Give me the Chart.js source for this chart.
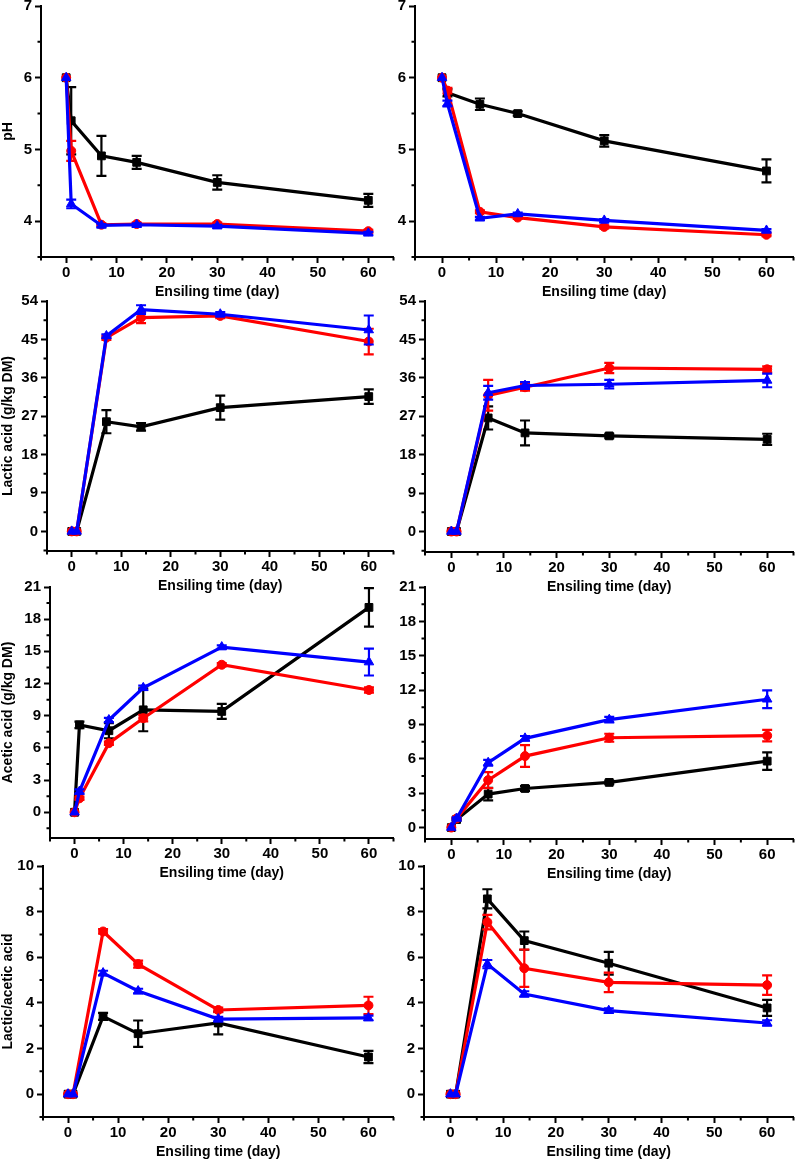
<!DOCTYPE html>
<html>
<head>
<meta charset="utf-8">
<script src="https://cdn.jsdelivr.net/npm/chart.js@4/dist/chart.umd.min.js"></script>
<style>
html, body { margin: 0; padding: 0; background: #ffffff; }
body { width: 800px; height: 1161px; position: relative; overflow: hidden; }
canvas { position: absolute; }
</style>
</head>
<body>
<canvas id="c1"></canvas>
<canvas id="c2"></canvas>
<canvas id="c3"></canvas>
<canvas id="c4"></canvas>
<canvas id="c5"></canvas>
<canvas id="c6"></canvas>
<canvas id="c7"></canvas>
<canvas id="c8"></canvas>
<script>
// ---------- data ----------
const days = [0, 1, 7, 14, 30, 60];
const xTicks = [0, 10, 20, 30, 40, 50, 60];
const xTitle = 'Ensiling time (day)';

const pHTicks = [4, 5, 6, 7];
const lacticTicks = [0, 9, 18, 27, 36, 45, 54];
const aceticTicks = [0, 3, 6, 9, 12, 15, 18, 21];
const ratioTicks = [0, 2, 4, 6, 8, 10];

// pH, left
const pHLeftBlack = [6.00, 5.40, 4.91, 4.82, 4.54, 4.29];
const pHLeftBlackErr = [0, 0.47, 0.28, 0.09, 0.10, 0.09];
const pHLeftRed = [6.00, 4.98, 3.95, 3.96, 3.96, 3.86];
const pHLeftRedErr = [0, 0.14, 0.02, 0.02, 0.02, 0.02];
const pHLeftBlue = [6.00, 4.24, 3.94, 3.95, 3.93, 3.83];
const pHLeftBlueErr = [0, 0.06, 0.02, 0.02, 0.02, 0.02];
// pH, right
const pHRightBlack = [6.00, 5.79, 5.63, 5.50, 5.12, 4.70];
const pHRightBlackErr = [0, 0.05, 0.08, 0.03, 0.08, 0.16];
const pHRightRed = [6.00, 5.82, 4.13, 4.05, 3.92, 3.81];
const pHRightRedErr = [0, 0.04, 0.02, 0.02, 0.02, 0.02];
const pHRightBlue = [6.00, 5.64, 4.04, 4.10, 4.01, 3.87];
const pHRightBlueErr = [0, 0.04, 0.02, 0.02, 0.02, 0.02];

// Lactic acid, left
const lacticLeftBlack = [0, 0, 25.7, 24.5, 29.0, 31.6];
const lacticLeftBlackErr = [0, 0, 2.7, 0.9, 2.8, 1.7];
const lacticLeftRed = [0, 0, 45.4, 50.1, 50.5, 44.5];
const lacticLeftRedErr = [0, 0, 0.5, 1.3, 0.5, 3.0];
const lacticLeftBlue = [0, 0, 45.8, 52.0, 50.9, 47.2];
const lacticLeftBlueErr = [0, 0, 0.4, 1.0, 0.5, 3.4];
// Lactic acid, right
const lacticRightBlack = [0, 0, 26.6, 23.1, 22.4, 21.6];
const lacticRightBlackErr = [0, 0, 2.7, 2.9, 0.5, 1.3];
const lacticRightRed = [0, 0, 31.9, 33.8, 38.3, 38.0];
const lacticRightRedErr = [0, 0, 3.6, 0.8, 1.2, 0.7];
const lacticRightBlue = [0, 0, 32.5, 34.2, 34.5, 35.4];
const lacticRightBlueErr = [0, 0, 1.6, 0.8, 1.0, 1.6];

// Acetic acid, left
const aceticLeftBlack = [0, 8.15, 7.60, 9.55, 9.40, 19.1];
const aceticLeftBlackErr = [0, 0.30, 0.70, 2.0, 0.70, 1.8];
const aceticLeftRed = [0, 1.30, 6.44, 8.77, 13.75, 11.4];
const aceticLeftRedErr = [0, 0.15, 0.15, 0.30, 0.15, 0.25];
const aceticLeftBlue = [0, 1.93, 8.60, 11.6, 15.4, 14.0];
const aceticLeftBlueErr = [0, 0.20, 0.20, 0.20, 0.15, 1.25];
// Acetic acid, right
const aceticRightBlack = [0, 0.70, 2.92, 3.41, 3.94, 5.80];
const aceticRightBlackErr = [0, 0.10, 0.55, 0.20, 0.15, 0.77];
const aceticRightRed = [0, 0.79, 4.14, 6.24, 7.84, 8.02];
const aceticRightRedErr = [0, 0.10, 0.70, 0.95, 0.35, 0.50];
const aceticRightBlue = [0, 0.79, 5.66, 7.79, 9.42, 11.2];
const aceticRightBlueErr = [0, 0.10, 0.25, 0.20, 0.25, 0.78];

// Lactic/acetic ratio, left
const ratioLeftBlack = [0, 0, 3.41, 2.65, 3.12, 1.63];
const ratioLeftBlackErr = [0, 0, 0.15, 0.58, 0.50, 0.27];
const ratioLeftRed = [0, 0, 7.13, 5.70, 3.69, 3.89];
const ratioLeftRedErr = [0, 0, 0.10, 0.15, 0.10, 0.38];
const ratioLeftBlue = [0, 0, 5.31, 4.52, 3.29, 3.34];
const ratioLeftBlueErr = [0, 0, 0.10, 0.10, 0.10, 0.10];
// Lactic/acetic ratio, right
const ratioRightBlack = [0, 0, 8.56, 6.73, 5.74, 3.78];
const ratioRightBlackErr = [0, 0, 0.42, 0.40, 0.50, 0.35];
const ratioRightRed = [0, 0, 7.54, 5.52, 4.90, 4.78];
const ratioRightRedErr = [0, 0, 0.32, 0.82, 0.43, 0.43];
const ratioRightBlue = [0, 0, 5.70, 4.39, 3.66, 3.12];
const ratioRightBlueErr = [0, 0, 0.18, 0.12, 0.10, 0.12];

// ---------- styling / layout ----------
const BLACK = '#000000', RED = '#ff0000', BLUE = '#0000ff';
const FONT = "'Liberation Sans', Arial, sans-serif";

// chart area boxes: [left, top, right, bottom], canvas left
const panels = [
  { id: 'c1', box: [41, 6, 399, 257], cl: 0, yTitle: 'pH', yMin: 3.5, yMax: 7, ticks: pHTicks,
    series: [[pHLeftBlack, pHLeftBlackErr], [pHLeftRed, pHLeftRedErr], [pHLeftBlue, pHLeftBlueErr]] },
  { id: 'c2', box: [415, 6, 800, 257], cl: 395, yTitle: '', yMin: 3.5, yMax: 7, ticks: pHTicks,
    series: [[pHRightBlack, pHRightBlackErr], [pHRightRed, pHRightRedErr], [pHRightBlue, pHRightBlueErr]] },
  { id: 'c3', box: [47, 301, 399, 551], cl: 0, yTitle: 'Lactic acid (g/kg DM)', yMin: -4.6, yMax: 54, ticks: lacticTicks,
    series: [[lacticLeftBlack, lacticLeftBlackErr], [lacticLeftRed, lacticLeftRedErr], [lacticLeftBlue, lacticLeftBlueErr]] },
  { id: 'c4', box: [425, 301, 797, 552], cl: 395, yTitle: '', yMin: -4.8, yMax: 54, ticks: lacticTicks,
    series: [[lacticRightBlack, lacticRightBlackErr], [lacticRightRed, lacticRightRedErr], [lacticRightBlue, lacticRightBlueErr]] },
  { id: 'c5', box: [50, 587, 399, 838], cl: 0, yTitle: 'Acetic acid (g/kg DM)', yMin: -2.4, yMax: 21, ticks: aceticTicks,
    series: [[aceticLeftBlack, aceticLeftBlackErr], [aceticLeftRed, aceticLeftRedErr], [aceticLeftBlue, aceticLeftBlueErr]] },
  { id: 'c6', box: [425, 587, 797, 839], cl: 395, yTitle: '', yMin: -1.0, yMax: 21, ticks: aceticTicks,
    series: [[aceticRightBlack, aceticRightBlackErr], [aceticRightRed, aceticRightRedErr], [aceticRightBlue, aceticRightBlueErr]] },
  { id: 'c7', box: [43, 866, 399, 1117], cl: 0, yTitle: 'Lactic/acetic acid', yMin: -1, yMax: 10, ticks: ratioTicks,
    series: [[ratioLeftBlack, ratioLeftBlackErr], [ratioLeftRed, ratioLeftRedErr], [ratioLeftBlue, ratioLeftBlueErr]] },
  { id: 'c8', box: [424, 866, 797, 1117], cl: 395, yTitle: '', yMin: -1, yMax: 10, ticks: ratioTicks,
    series: [[ratioRightBlack, ratioRightBlackErr], [ratioRightRed, ratioRightRedErr], [ratioRightBlue, ratioRightBlueErr]] }
];

const seriesStyle = [
  { label: 'Series 1', color: BLACK, point: 'rect', radius: 5.5, order: 3 },
  { label: 'Series 2', color: RED, point: 'circle', radius: 4.5, order: 2 },
  { label: 'Series 3', color: BLUE, point: 'triangle', radius: 5.5, order: 1 }
];

const PAD_TOP = 14;
const X_AXIS_H = 44;

// error bars + minor ticks
const errorBarPlugin = {
  id: 'errorBars',
  afterDatasetDraw(chart, args) {
    const ds = chart.data.datasets[args.index];
    if (!ds.errors) return;
    const ctx = chart.ctx;
    const ys = chart.scales.y;
    ctx.save();
    ctx.strokeStyle = ds.borderColor;
    ctx.lineWidth = 2.2;
    args.meta.data.forEach((pt, i) => {
      const e = ds.errors[i];
      if (!e) return;
      const v = ds.data[i].y;
      const yt = ys.getPixelForValue(v + e);
      const yb = ys.getPixelForValue(v - e);
      const x = pt.x;
      ctx.beginPath();
      ctx.moveTo(x, yt); ctx.lineTo(x, yb);
      ctx.moveTo(x - 5, yt); ctx.lineTo(x + 5, yt);
      ctx.moveTo(x - 5, yb); ctx.lineTo(x + 5, yb);
      ctx.stroke();
    });
    ctx.restore();
  },
  afterDraw(chart) {
    const ctx = chart.ctx;
    const xs = chart.scales.x, ys = chart.scales.y;
    const ca = chart.chartArea;
    const minorX = chart.options.plugins.errorBars.minorX;
    const minorY = chart.options.plugins.errorBars.minorY;
    ctx.save();
    ctx.strokeStyle = '#000';
    ctx.lineWidth = 2;
    ctx.beginPath();
    minorX.forEach(v => {
      if (v < xs.min || v > xs.max) return;
      const px = xs.getPixelForValue(v);
      ctx.moveTo(px, ca.bottom); ctx.lineTo(px, ca.bottom + 3.5);
    });
    minorY.forEach(v => {
      if (v < ys.min || v > ys.max) return;
      const py = ys.getPixelForValue(v);
      ctx.moveTo(ca.left - 3.5, py); ctx.lineTo(ca.left, py);
    });
    ctx.stroke();
    ctx.restore();
  }
};

function minorsFrom(major) {
  const step = major[1] - major[0];
  const out = [major[0] - step / 2];
  major.forEach(v => out.push(v + step / 2));
  return out;
}

panels.forEach(p => {
  const [L, T, R, B] = p.box;
  const canvas = document.getElementById(p.id);
  const cTop = T - PAD_TOP;
  const cW = Math.max(R, p.cl === 0 ? 400 : 800) - p.cl;
  const cH = B + X_AXIS_H - cTop;
  canvas.width = cW; canvas.height = cH;
  canvas.style.left = p.cl + 'px';
  canvas.style.top = cTop + 'px';
  canvas.style.width = cW + 'px';
  canvas.style.height = cH + 'px';

  const datasets = p.series.map((s, k) => {
    const st = seriesStyle[k];
    return {
      label: st.label,
      data: days.map((d, i) => ({ x: d, y: s[0][i] })),
      errors: s[1],
      borderColor: st.color,
      backgroundColor: st.color,
      pointBackgroundColor: st.color,
      pointBorderColor: st.color,
      pointStyle: st.point,
      pointRadius: st.radius,
      pointBorderWidth: 1,
      borderWidth: 3.2,
      tension: 0,
      order: st.order
    };
  });

  new Chart(canvas, {
    type: 'line',
    data: { datasets },
    options: {
      responsive: false,
      animation: false,
      devicePixelRatio: 1,
      layout: { padding: { top: PAD_TOP, left: 0, bottom: 0, right: (p.cl === 0 ? 400 : 800) - R } },
      plugins: {
        legend: { display: false },
        tooltip: { enabled: false },
        errorBars: { minorX: minorsFrom(xTicks), minorY: minorsFrom(p.ticks) }
      },
      scales: {
        x: {
          type: 'linear',
          min: -5, max: 65,
          afterBuildTicks: s => { s.ticks = xTicks.map(v => ({ value: v })); },
          afterFit: s => { s.height = X_AXIS_H; },
          grid: { drawOnChartArea: false, drawTicks: true, tickLength: 6, tickWidth: 2, tickColor: '#000' },
          border: { display: true, color: '#000', width: 2 },
          ticks: { color: '#000', padding: 1, maxRotation: 0, font: { family: FONT, size: 15, weight: 'bold' } },
          title: { display: true, text: xTitle, color: '#000', padding: 0, font: { family: FONT, size: 14, weight: 'bold' } }
        },
        y: {
          type: 'linear',
          min: p.yMin, max: p.yMax,
          afterBuildTicks: s => { s.ticks = p.ticks.map(v => ({ value: v })); },
          afterFit: s => { s.width = L - p.cl; },
          grid: { drawOnChartArea: false, drawTicks: true, tickLength: 6, tickWidth: 2, tickColor: '#000' },
          border: { display: true, color: '#000', width: 2 },
          ticks: { color: '#000', padding: 3, font: { family: FONT, size: 15, weight: 'bold' } },
          title: { display: p.yTitle !== '', text: p.yTitle, color: '#000', padding: 0, font: { family: FONT, size: 14, weight: 'bold' } }
        }
      }
    },
    plugins: [errorBarPlugin]
  });
});
</script>
</body>
</html>
